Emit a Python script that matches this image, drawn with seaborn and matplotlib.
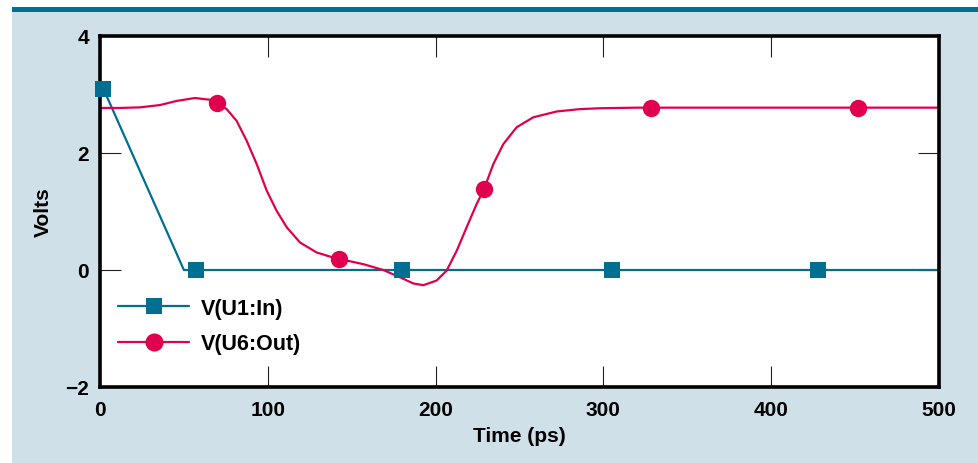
import matplotlib
matplotlib.use("Agg")
import matplotlib.pyplot as plt
from matplotlib.lines import Line2D
from matplotlib.patches import Rectangle
import seaborn as sns
import pandas as pd

# ---- data ----
in_line_x = [2, 50, 500]
in_line_y = [3.1, 0.0, 0.0]
in_mark_x = [2, 57, 180, 305, 428]
in_mark_y = [3.1, 0.0, 0.0, 0.0, 0.0]

out_line_x = [0, 11.9, 23.8, 35.8, 45.7, 56.6, 65.6, 69.9, 75.5, 81.4, 87.4, 93.4, 99.3,
              105.3, 111.3, 119.2, 129.1, 137, 142.4, 156.9, 168.8, 178.8, 186.7, 192.7,
              200.6, 206.6, 212.6, 218.5, 224.5, 228.8, 234.4, 240.3, 248.3, 258.2, 272.2,
              286, 298, 320, 400, 500]
out_line_y = [2.77, 2.77, 2.78, 2.82, 2.89, 2.94, 2.91, 2.855, 2.75, 2.55, 2.21, 1.81, 1.36,
              1.01, 0.73, 0.47, 0.30, 0.23, 0.19, 0.10, 0.00, -0.125, -0.23, -0.26,
              -0.18, -0.01, 0.33, 0.73, 1.13, 1.38, 1.81, 2.15, 2.44, 2.61, 2.71,
              2.75, 2.765, 2.775, 2.775, 2.775]
out_mark_x = [70, 142.4, 228.8, 328.4, 451.7]
out_mark_y = [2.855, 0.19, 1.38, 2.775, 2.775]

series_names = ["V(U1:In)", "V(U6:Out)"]
x_ticks = [0, 100, 200, 300, 400, 500]
y_ticks = [-2, 0, 2, 4]
x_label = "Time (ps)"
y_label = "Volts"

TEAL = "#006f91"
CRIMSON = "#e0004d"
BG = "#d0e0e8"

sns.set_theme(style="white")
plt.rcParams["font.family"] = ["Liberation Sans", "DejaVu Sans"]
plt.rcParams["font.weight"] = "bold"
plt.rcParams["text.color"] = "black"
plt.rcParams["axes.labelcolor"] = "black"
plt.rcParams["xtick.color"] = "black"
plt.rcParams["ytick.color"] = "black"

fig = plt.figure(figsize=(9.79, 4.64), dpi=100)
fig.patch.set_facecolor("white")
W, H = 979, 464
fig.patches.append(Rectangle((12 / W, 0), 1 - 12 / W, (H - 13) / H, transform=fig.transFigure,
                             facecolor=BG, edgecolor="none", zorder=-10))
fig.patches.append(Rectangle((12 / W, (H - 13) / H), 1 - 12 / W, 5 / H, transform=fig.transFigure,
                             facecolor=TEAL, edgecolor="none", zorder=-10))

ax = fig.add_axes([100 / W, 1 - 388 / H, 839 / W, 351 / H])
ax.set_facecolor("white")

df_in = pd.DataFrame({"x": in_line_x, "y": in_line_y})
df_out = pd.DataFrame({"x": out_line_x, "y": out_line_y})
sns.lineplot(data=df_in, x="x", y="y", ax=ax, color=TEAL, linewidth=1.6, sort=False, zorder=3)
sns.lineplot(data=df_out, x="x", y="y", ax=ax, color=CRIMSON, linewidth=1.6, sort=False, zorder=3)
ax.scatter(in_mark_x, in_mark_y, marker="s", s=11.5 ** 2, color=TEAL, zorder=5, clip_on=False, linewidths=0)
ax.scatter(out_mark_x, out_mark_y, marker="o", s=12.5 ** 2, color=CRIMSON, zorder=5, clip_on=False, linewidths=0)

ax.set_xlim(0, 500)
ax.set_ylim(-2, 4)
ax.set_xticks(x_ticks)
ax.set_yticks(y_ticks)
ax.set_yticklabels(["\u22122" if v < 0 else str(v) for v in y_ticks])
ax.tick_params(axis="both", direction="in", length=15, width=0.8, color="#222222",
               top=True, right=True, bottom=True, left=True, labelsize=15, labelcolor="black")
ax.tick_params(axis="x", pad=9.5)
ax.tick_params(axis="y", pad=8)
for s in ax.spines.values():
    s.set_visible(True)
    s.set_linewidth(2.6)
    s.set_color("black")
    s.set_zorder(4)

ax.set_xlabel(x_label, fontsize=15, fontweight="bold", labelpad=5, color="black")
ax.set_ylabel(y_label, fontsize=15, fontweight="bold", labelpad=9, color="black")

handles = [Line2D([], [], color=TEAL, linewidth=1.6, marker="s", markersize=12, markeredgewidth=0),
           Line2D([], [], color=CRIMSON, linewidth=1.6, marker="o", markersize=13, markeredgewidth=0)]
leg = ax.legend(handles, series_names, loc="upper left", bbox_to_anchor=(0.0215, 0.254),
                frameon=False, fontsize=15.5, handlelength=3.3, handletextpad=0.56,
                labelspacing=0.68, borderpad=0, borderaxespad=0)
for t in leg.get_texts():
    t.set_fontweight("bold")
    t.set_color("black")

fig.savefig("out.png", dpi=100)
